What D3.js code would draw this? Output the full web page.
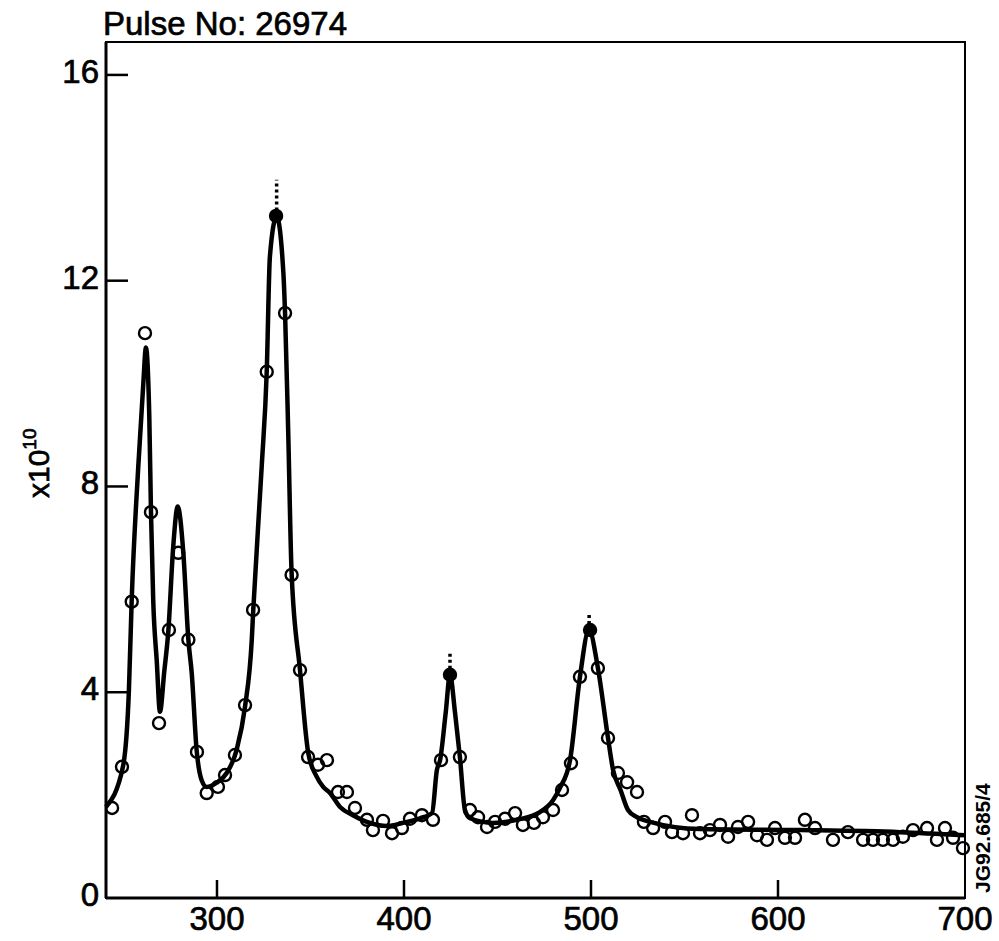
<!DOCTYPE html>
<html>
<head>
<meta charset="utf-8">
<script src="https://cdn.jsdelivr.net/npm/d3@7"></script>
<style>
  body { margin: 0; background: #fff; }
  svg { display: block; }
  text { font-family: "Liberation Sans", Arial, sans-serif; fill: #000; stroke: #000; stroke-width: 0.7px; }
</style>
</head>
<body>
<div id="chart"></div>
<script>
// fitted curve
var fitX = [240.6, 249.7, 252.9, 254.4, 257.9, 260.6, 262.0, 263.8, 264.7, 265.9, 267.8, 269.5,
  271.8, 274.0, 276.6, 279.0, 282.0, 284.7, 286.5, 289.1, 291.8, 294.5, 299.8, 305.2, 310.5,
  315.0, 318.6, 319.4, 323.9, 326.6, 328.3, 331.9, 335.5, 336.4, 338.1, 339.9, 344.4,
  348.8, 353.3, 356.8, 360.4, 365.8, 372.7, 381.8, 390.9, 399.5, 408.6, 415.0, 417.6, 419.3,
  422.3, 424.6, 427.3, 429.9, 432.6, 435.3, 447.6, 460.4, 472.7, 479.7, 483.4, 488.8, 494.1,
  498.9, 503.7, 509.1, 511.8, 515.8, 519.8, 524.6, 531.6, 558.3, 611.8, 665.2, 700.0];
var fitY = [1.77, 2.55, 4.04, 5.80, 8.38, 10.0, 10.7, 9.36, 7.51, 5.79, 4.60, 3.62,
  4.40, 5.20, 6.83, 7.61, 6.71, 5.02, 4.37, 2.88, 2.29, 2.16, 2.24, 2.43, 2.88,
  3.72, 5.02, 5.60, 8.38, 10.23, 12.47, 13.25, 12.15, 11.37, 9.04, 6.32, 4.43,
  2.82, 2.36, 2.16, 2.04, 1.77, 1.61, 1.46, 1.40, 1.46, 1.55, 1.65, 2.49, 2.68,
  3.60, 4.34, 3.60, 2.74, 1.71, 1.55, 1.46, 1.52, 1.67, 1.90, 2.14, 2.68, 4.30,
  5.21, 4.47, 3.11, 2.49, 2.10, 1.71, 1.57, 1.48, 1.34, 1.32, 1.28, 1.22];

// measured points
var obsX = [243.9, 249.2, 254.4, 261.5, 264.7, 269.0, 274.3, 279.3, 284.7, 289.3, 294.5, 300.5,
  304.3, 309.6, 315.0, 319.3, 326.6, 331.6, 336.4, 339.9, 344.4, 348.7, 354.0, 358.8, 364.7,
  369.5, 373.8, 380.2, 383.4, 388.8, 393.6, 398.9, 403.2, 409.6, 415.5, 419.8, 424.6, 429.9,
  435.3, 439.6, 444.4, 448.7, 454.0, 459.4, 463.6, 469.5, 474.3, 479.7, 484.5, 489.3, 494.1,
  499.5, 503.7, 509.1, 514.4, 519.3, 524.6, 528.3, 533.2, 539.6, 543.3, 549.2, 554.0, 558.3,
  563.6, 569.0, 573.3, 578.6, 584.0, 588.8, 594.1, 598.4, 603.7, 609.1, 614.4, 619.8, 629.4,
  637.4, 645.5, 650.8, 656.1, 661.5, 666.8, 672.2, 679.7, 685.0, 689.3, 693.6, 698.9];
var obsY = [1.75, 2.55, 5.76, 10.98, 7.50, 3.40, 5.21, 6.71, 5.02, 2.84, 2.04, 2.16,
  2.39, 2.78, 3.75, 5.60, 10.23, 13.26, 11.37, 6.28, 4.43, 2.74, 2.59, 2.68, 2.06,
  2.06, 1.75, 1.52, 1.32, 1.50, 1.26, 1.36, 1.54, 1.61, 1.52, 2.68, 4.34, 2.74,
  1.71, 1.57, 1.38, 1.48, 1.54, 1.65, 1.42, 1.46, 1.57, 1.71, 2.10, 2.62, 4.30,
  5.21, 4.47, 3.11, 2.43, 2.25, 2.06, 1.48, 1.36, 1.48, 1.28, 1.26, 1.61, 1.26,
  1.32, 1.42, 1.19, 1.38, 1.48, 1.22, 1.13, 1.36, 1.17, 1.17, 1.52, 1.36, 1.13,
  1.28, 1.13, 1.13, 1.13, 1.13, 1.19, 1.32, 1.36, 1.13, 1.36, 1.17, 0.97];
// points drawn solid (overprinted at the peak tops)
var obsFilled = [331.6, 424.6, 499.5];

// dotted continuation above the peak tops
var tipX = [331.9, 424.6, 499.0];
var tipFrom = [13.25, 4.34, 5.21];
var tipTo = [13.96, 4.76, 5.54];

var xTicks = [300, 400, 500, 600, 700];
var yTicks = [0, 4, 8, 12, 16];

var svgW = 999, svgH = 941;
var plotLeft = 106, plotRight = 965, plotTop = 42, plotBottom = 898;
var tickLenX = 18, tickLenY = 22;

var svg = d3.select("#chart").append("svg")
  .attr("width", svgW)
  .attr("height", svgH);

var x = d3.scaleLinear().domain([240.65, 700]).range([plotLeft, plotRight]);
var y = d3.scaleLinear().domain([0, 16.64]).range([plotBottom, plotTop]);

// frame
svg.append("rect")
  .attr("x", plotLeft)
  .attr("y", plotTop)
  .attr("width", plotRight - plotLeft)
  .attr("height", plotBottom - plotTop)
  .attr("fill", "none")
  .attr("stroke", "#000")
  .attr("stroke-width", 2);
svg.append("line")
  .attr("x1", plotLeft).attr("x2", plotRight)
  .attr("y1", plotBottom).attr("y2", plotBottom)
  .attr("stroke", "#000").attr("stroke-width", 3);
svg.append("line")
  .attr("x1", plotLeft).attr("x2", plotLeft)
  .attr("y1", plotTop).attr("y2", plotBottom)
  .attr("stroke", "#000").attr("stroke-width", 3);

// x ticks point up into the plot
svg.selectAll(".xtick").data(xTicks.filter(d => d < 700))
  .enter().append("line")
  .attr("class", "xtick")
  .attr("x1", d => x(d)).attr("x2", d => x(d))
  .attr("y1", plotBottom).attr("y2", plotBottom - tickLenX)
  .attr("stroke", "#000").attr("stroke-width", 2.5);

svg.selectAll(".xlabel").data(xTicks)
  .enter().append("text")
  .attr("class", "xlabel")
  .attr("x", d => x(d))
  .attr("y", 930)
  .attr("text-anchor", "middle")
  .attr("font-size", 33)
  .text(d => d);

svg.selectAll(".ytick").data(yTicks.filter(d => d > 0))
  .enter().append("line")
  .attr("class", "ytick")
  .attr("x1", plotLeft).attr("x2", plotLeft + tickLenY)
  .attr("y1", d => y(d)).attr("y2", d => y(d))
  .attr("stroke", "#000").attr("stroke-width", 2.5);

svg.selectAll(".ylabel").data(yTicks)
  .enter().append("text")
  .attr("class", "ylabel")
  .attr("x", 99)
  .attr("y", d => y(d) + 8)
  .attr("text-anchor", "end")
  .attr("font-size", 33)
  .text(d => d);

// y axis title
var yTitle = svg.append("text")
  .attr("transform", "translate(49, 498) rotate(-90)")
  .attr("font-size", 30);
yTitle.append("tspan").text("x10");
yTitle.append("tspan").attr("font-size", 19).attr("dy", -13).text("10");

svg.append("text")
  .attr("x", 103)
  .attr("y", 35)
  .attr("font-size", 33)
  .text("Pulse No: 26974");

svg.append("text")
  .attr("transform", "translate(990, 893) rotate(-90)")
  .attr("font-size", 21)
  .attr("font-weight", "bold")
  .style("stroke-width", "0px")
  .text("JG92.685/4");

// fit curve
var fit = fitX.map((d, i) => [d, fitY[i]]);
var line = d3.line()
  .x(d => x(d[0]))
  .y(d => y(d[1]))
  .curve(d3.curveMonotoneX);

svg.append("path")
  .datum(fit)
  .attr("d", line)
  .attr("fill", "none")
  .attr("stroke", "#000")
  .attr("stroke-width", 4.5)
  .attr("stroke-linejoin", "round");

svg.selectAll(".tip").data(tipX)
  .enter().append("line")
  .attr("class", "tip")
  .attr("x1", d => x(d)).attr("x2", d => x(d))
  .attr("y1", (d, i) => y(tipFrom[i])).attr("y2", (d, i) => y(tipTo[i]))
  .attr("stroke", "#000")
  .attr("stroke-width", 3.5)
  .attr("stroke-dasharray", "3,3");

// data points
var obs = obsX.map((d, i) => [d, obsY[i]]);
svg.selectAll(".obs").data(obs)
  .enter().append("circle")
  .attr("class", "obs")
  .attr("cx", d => x(d[0]))
  .attr("cy", d => y(d[1]))
  .attr("r", 6)
  .attr("fill", d => obsFilled.indexOf(d[0]) >= 0 ? "#000" : "#fff")
  .attr("fill-opacity", d => obsFilled.indexOf(d[0]) >= 0 ? 1 : 0)
  .attr("stroke", "#000")
  .attr("stroke-width", 2.4);
</script>
</body>
</html>
